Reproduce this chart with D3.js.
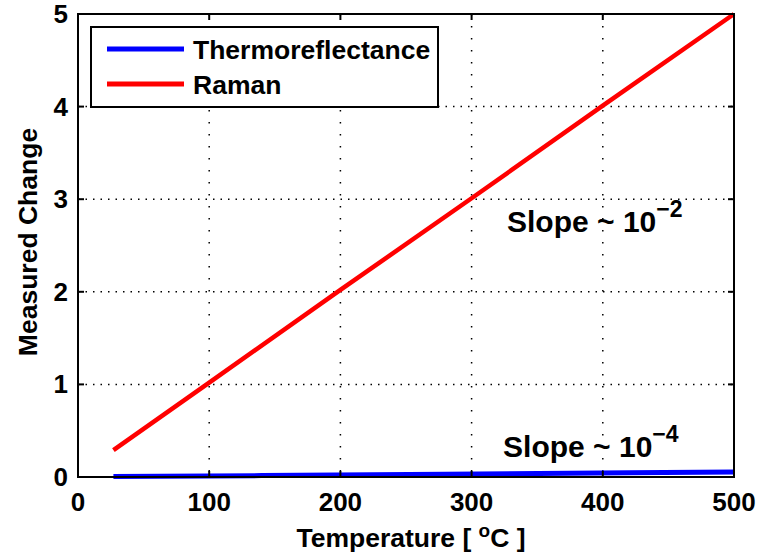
<!DOCTYPE html>
<html>
<head>
<meta charset="utf-8">
<script src="https://cdn.jsdelivr.net/npm/d3@7"></script>
<style>
  html, body { margin: 0; padding: 0; background: #fff; }
  svg { display: block; font-family: "Liberation Sans", Arial, Helvetica, sans-serif; font-weight: bold; }
</style>
</head>
<body>
<svg id="chart" width="771" height="557"></svg>
<script>
// series
const ramanT = [27, 100, 200, 300, 400, 500];
const ramanV = [0.29, 1.02, 2.02, 3.01, 4.01, 5.0];
const thermoT = [27, 140, 280, 420, 500];
const thermoV = [0.005, 0.015, 0.03, 0.045, 0.055];

const xTicks = [0, 100, 200, 300, 400, 500];
const yTicks = [0, 1, 2, 3, 4, 5];
const seriesNames = ["Thermoreflectance", "Raman"];
const seriesColors = ["#0000ff", "#ff0000"];

const svg = d3.select("#chart");
const pl = 78, pr = 734, pt = 14, pb = 477;

const x = d3.scaleLinear().domain([0, 500]).range([pl, pr]);
const y = d3.scaleLinear().domain([0, 5]).range([pb, pt]);

// dotted grid
const grid = svg.append("g");
grid.selectAll("line.vx")
  .data(xTicks.slice(1, -1))
  .join("line")
  .attr("x1", d => x(d)).attr("x2", d => x(d))
  .attr("y1", pt).attr("y2", pb)
  .attr("stroke", "#000").attr("stroke-width", 1.5)
  .attr("stroke-dasharray", "1.5,10.5");
grid.selectAll("line.hy")
  .data(yTicks.slice(1, -1))
  .join("line")
  .attr("x1", pl).attr("x2", pr)
  .attr("y1", d => y(d)).attr("y2", d => y(d))
  .attr("stroke", "#000").attr("stroke-width", 1.5)
  .attr("stroke-dasharray", "1.5,6");

// lines
const line = d3.line().x(d => x(d[0])).y(d => y(d[1]));
svg.append("path")
  .datum(d3.zip(ramanT, ramanV))
  .attr("d", line)
  .attr("fill", "none").attr("stroke", seriesColors[1]).attr("stroke-width", 4.5);
svg.append("path")
  .datum(d3.zip(thermoT, thermoV))
  .attr("d", line)
  .attr("fill", "none").attr("stroke", seriesColors[0]).attr("stroke-width", 5);

// box + inward ticks on all four sides
const axes = svg.append("g").attr("stroke", "#000").attr("stroke-width", 2);
axes.append("rect")
  .attr("x", pl).attr("y", pt)
  .attr("width", pr - pl).attr("height", pb - pt)
  .attr("fill", "none");
const tl = 6;
xTicks.forEach(t => {
  axes.append("line").attr("x1", x(t)).attr("x2", x(t)).attr("y1", pb).attr("y2", pb - tl);
  axes.append("line").attr("x1", x(t)).attr("x2", x(t)).attr("y1", pt).attr("y2", pt + tl);
});
yTicks.forEach(t => {
  axes.append("line").attr("x1", pl).attr("x2", pl + tl).attr("y1", y(t)).attr("y2", y(t));
  axes.append("line").attr("x1", pr).attr("x2", pr - tl).attr("y1", y(t)).attr("y2", y(t));
});

// tick labels
svg.append("g").selectAll("text")
  .data(xTicks)
  .join("text")
  .attr("x", d => x(d)).attr("y", 511)
  .attr("text-anchor", "middle")
  .attr("font-size", 26)
  .text(d => d);
svg.append("g").selectAll("text")
  .data(yTicks)
  .join("text")
  .attr("x", 68).attr("y", d => y(d) + 9)
  .attr("text-anchor", "end")
  .attr("font-size", 26)
  .text(d => d);

// axis labels
const xl = svg.append("text")
  .attr("x", 411).attr("y", 547)
  .attr("text-anchor", "middle")
  .attr("font-size", 26.5);
xl.append("tspan").text("Temperature [ ");
xl.append("tspan").attr("dy", -10).attr("font-size", 19).text("o");
xl.append("tspan").attr("dy", 10).text("C ]");

svg.append("text")
  .attr("transform", "translate(37,242) rotate(-90)")
  .attr("text-anchor", "middle")
  .attr("font-size", 26.5)
  .text("Measured Change");

// annotations
function slopeLabel(tx, ty, exp) {
  const t = svg.append("text")
    .attr("x", x(tx)).attr("y", y(ty))
    .attr("font-size", 30);
  t.append("tspan").text("Slope ~ 10");
  t.append("tspan").attr("dy", -15).attr("font-size", 23).text("\u2212" + exp);
}
slopeLabel(327, 2.65, 2);
slopeLabel(324, 0.22, 4);

// legend
const lg = svg.append("g");
lg.append("rect")
  .attr("x", 91).attr("y", 27).attr("width", 347).attr("height", 80)
  .attr("fill", "#fff").attr("stroke", "#000").attr("stroke-width", 2);
seriesNames.forEach((name, i) => {
  const ly = 49 + i * 35;
  lg.append("line")
    .attr("x1", 107).attr("x2", 184).attr("y1", ly).attr("y2", ly)
    .attr("stroke", seriesColors[i]).attr("stroke-width", 5);
  lg.append("text")
    .attr("x", 193).attr("y", ly + 10)
    .attr("font-size", 26.5)
    .text(name);
});
</script>
</body>
</html>
